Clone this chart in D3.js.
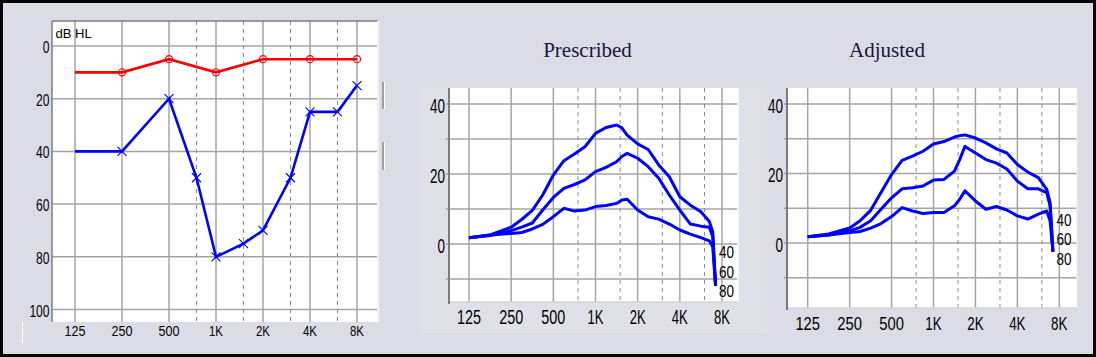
<!DOCTYPE html>
<html><head><meta charset="utf-8">
<script src="https://cdn.jsdelivr.net/npm/d3@7"></script>
<style>html,body{margin:0;padding:0;background:#000;}svg{display:block;}</style>
</head><body>
<svg id="chart" width="1096" height="357"></svg>
<script>
// ---------- data ----------
const octaveTicks = [125, 250, 500, 1000, 2000, 4000, 8000];
const tickLabels = ["125", "250", "500", "1K", "2K", "4K", "8K"];
const halfOctaves = [750, 1500, 3000, 6000];
const audioYTicks = [0, 20, 40, 60, 80, 100];
const gainYTicks = [0, 20, 40];
const gainGrid = [-10, 0, 10, 20, 30, 40];

// audiogram (dB HL)
const redFreq = [125, 250, 500, 1000, 2000, 4000, 8000];
const redDb   = [10, 10, 5, 10, 5, 5, 5];
const blueFreq = [125, 250, 500, 750, 1000, 1500, 2000, 3000, 4000, 6000, 8000];
const blueDb   = [40, 40, 20, 50, 80, 75, 70, 50, 25, 25, 15];

// gain curves (dB) — input levels 40 / 60 / 80
const curveFreq = [125,177,250,297,354,420,500,595,707,841,1000,1189,1414,1542,1682,2000,2378,2828,3364,4000,4757,5657,6498,6870,7200];
const prescribed40 = [1.8,2.6,4.8,7,9.6,14,19.7,23.8,25.7,27.8,31.6,33.3,34,33.2,31.1,28.6,27,22.6,19.2,13.5,11.1,9.2,6.4,3.5,-12];
const prescribed60 = [1.8,2.4,3.8,4.8,6,9.7,13.3,15.9,17,18.3,20.7,21.9,23.5,25,25.9,24.5,22.1,18.8,14,9.7,5.7,5.1,4.8,2.1,-12];
const prescribed80 = [1.8,2.6,3,3.3,4.3,5.6,7.8,10.2,9.4,9.7,10.7,11,11.6,12.6,12.8,9.7,7.8,7.1,5.7,4,2.8,1.8,0.9,-0.8,-12];
const adjusted40 = [1.8,2.6,4.3,6.4,9.4,14.5,19.7,23.8,25,26.4,28.5,29.2,30.5,30.9,31.1,30.2,28.8,27.1,25.9,22.6,20.4,18.8,15.4,11.6,-2.5];
const adjusted60 = [1.8,2.3,3.5,4.5,6.4,9.7,13,15.6,15.9,16.4,18.1,18.3,20.7,24,27.8,25.9,24,23,21.3,17.8,15.6,15.6,14.5,10.7,-2.5];
const adjusted80 = [1.8,2.3,3,3.3,4.3,5.6,7.6,10.2,9.2,8.5,8.8,8.8,10.7,12.6,15,12.1,9.7,10.5,9.5,7.8,6.9,8.3,9.2,6.4,-2.5];
const levelLabels = ["40", "60", "80"];

// ---------- drawing ----------
const svg = d3.select("#chart");
svg.append("rect").attr("x",0).attr("y",0).attr("width",1096).attr("height",357).attr("fill","#000");
svg.append("rect").attr("x",3).attr("y",3).attr("width",1090).attr("height",351).attr("fill","#dcdce6");

const GRID = "#a4a4a4", DASH = "#8c8c8c", AXIS = "#7c7c7c";
const FONT = "'Liberation Sans', Arial, sans-serif";

function txt(g, x, y, s, size, charW, anchor) {
  return g.append("text").attr("x", x).attr("y", y).text(s)
    .attr("font-family", FONT).attr("font-size", size)
    .attr("text-anchor", anchor || "middle")
    .attr("dominant-baseline", "central")
    .attr("textLength", s.length * charW).attr("lengthAdjust", "spacingAndGlyphs")
    .attr("fill", "#000");
}

// ===== Left: audiogram =====
{
  const g = svg.append("g");
  const L = 52, R = 378, T = 21, B = 322;
  const x = d3.scaleLog().base(2).domain([125, 8000]).range([75, 357]);
  const y = d3.scaleLinear().domain([0, 100]).range([46, 309.5]);
  g.append("rect").attr("x", L).attr("y", T).attr("width", R - L).attr("height", B - T).attr("fill", "#fff");
  g.selectAll(".hg").data(audioYTicks).join("line")
    .attr("x1", L).attr("x2", R).attr("y1", d => y(d)).attr("y2", d => y(d))
    .attr("stroke", GRID).attr("stroke-width", 1.5);
  g.selectAll(".vg").data(octaveTicks).join("line")
    .attr("x1", d => x(d)).attr("x2", d => x(d)).attr("y1", T).attr("y2", B)
    .attr("stroke", GRID).attr("stroke-width", 1.5);
  g.selectAll(".dg").data(halfOctaves).join("line")
    .attr("x1", d => x(d)).attr("x2", d => x(d)).attr("y1", T).attr("y2", B)
    .attr("stroke", DASH).attr("stroke-width", 1).attr("stroke-dasharray", "4,4");
  g.append("line").attr("x1", L).attr("x2", R).attr("y1", T).attr("y2", T).attr("stroke", AXIS).attr("stroke-width", 1.5);
  g.append("line").attr("x1", L).attr("x2", L).attr("y1", T).attr("y2", B).attr("stroke", AXIS).attr("stroke-width", 1.5);
  g.append("line").attr("x1", R).attr("x2", R).attr("y1", T).attr("y2", B).attr("stroke", "#f4f4f4").attr("stroke-width", 2);

  g.append("text").attr("x", 55.5).attr("y", 37.5).text("dB HL")
    .attr("font-family", FONT).attr("font-size", 13).attr("fill", "#000");

  audioYTicks.forEach(d => txt(g, 49.5, y(d) + 1.5, String(d), 16, 6.7, "end"));
  octaveTicks.forEach((d, i) => txt(g, x(d), 330.5, tickLabels[i], 15, 7, "middle"));

  const red = redFreq.map((f, i) => [f, redDb[i]]);
  const blue = blueFreq.map((f, i) => [f, blueDb[i]]);
  const line = d3.line().x(d => x(d[0])).y(d => y(d[1]));
  g.append("path").attr("d", line(red)).attr("fill", "none").attr("stroke", "#ff0000").attr("stroke-width", 2.6);
  g.append("path").attr("d", line(blue)).attr("fill", "none").attr("stroke", "#0000ff").attr("stroke-width", 2.6);
  g.selectAll(".ro").data(red.slice(1)).join("circle")
    .attr("cx", d => x(d[0])).attr("cy", d => y(d[1])).attr("r", 3.6)
    .attr("fill", "none").attr("stroke", "#ff0000").attr("stroke-width", 1.1);
  g.selectAll(".bx").data(blue.slice(1)).join("path")
    .attr("d", d => { const cx = x(d[0]), cy = y(d[1]), s = 4.5;
      return `M${cx-s},${cy-s}L${cx+s},${cy+s}M${cx-s},${cy+s}L${cx+s},${cy-s}`; })
    .attr("stroke", "#0000ff").attr("stroke-width", 1.1);

  // small widget artefacts beside the plot
  [[82, 109], [142, 170]].forEach(([a, b]) => {
    g.append("line").attr("x1", 383).attr("x2", 383).attr("y1", a).attr("y2", b).attr("stroke", "#8a8a8a").attr("stroke-width", 1.5);
    g.append("line").attr("x1", 384.5).attr("x2", 384.5).attr("y1", a).attr("y2", b).attr("stroke", "#ffffff").attr("stroke-width", 1);
  });
  g.append("line").attr("x1", 22.5).attr("x2", 22.5).attr("y1", 322).attr("y2", 343).attr("stroke", "#fff").attr("stroke-width", 1);
}

// ===== Gain panels =====
function gainPanel(opts) {
  const g = svg.append("g");
  const { L, R, T, B, x0, x1, y0, y40, title, titleX, curves, labX, labY, tickY, tickSize, tickW } = opts;
  const x = d3.scaleLog().base(2).domain([125, 8000]).range([x0, x1]);
  const y = d3.scaleLinear().domain([0, 40]).range([y0, y40]);
  if (opts.panel) g.append("rect").attr("x", opts.panel[0]).attr("y", opts.panel[1])
      .attr("width", opts.panel[2]).attr("height", opts.panel[3]).attr("fill", "#e0e0e8");
  g.append("rect").attr("x", L).attr("y", T).attr("width", R - L).attr("height", B - T).attr("fill", "#fff");
  g.selectAll(".hg").data(gainGrid).join("line")
    .attr("x1", L - 3).attr("x2", R).attr("y1", d => y(d)).attr("y2", d => y(d))
    .attr("stroke", GRID).attr("stroke-width", 1.5);
  g.selectAll(".vg").data(octaveTicks).join("line")
    .attr("x1", d => x(d)).attr("x2", d => x(d)).attr("y1", T).attr("y2", B)
    .attr("stroke", GRID).attr("stroke-width", 1.5);
  g.selectAll(".dg").data(halfOctaves).join("line")
    .attr("x1", d => x(d)).attr("x2", d => x(d)).attr("y1", T).attr("y2", B)
    .attr("stroke", DASH).attr("stroke-width", 1).attr("stroke-dasharray", "4,4");
  g.append("line").attr("x1", L).attr("x2", R).attr("y1", B).attr("y2", B).attr("stroke", "#d4d4d4").attr("stroke-width", 1.5);
  g.append("line").attr("x1", R).attr("x2", R).attr("y1", T).attr("y2", B).attr("stroke", opts.edge).attr("stroke-width", 1.5);
  g.append("line").attr("x1", L).attr("x2", L).attr("y1", T).attr("y2", B + 2).attr("stroke", AXIS).attr("stroke-width", 2);

  gainYTicks.forEach(d => txt(g, L - 4, y(d) + 1.5, String(d), 19.5, 7.5, "end"));
  octaveTicks.forEach((d, i) => txt(g, x(d), tickY, tickLabels[i], tickSize, tickW, "middle"));

  g.append("text").attr("x", titleX).attr("y", 56.5).text(title)
    .attr("font-family", "'Liberation Serif', 'Times New Roman', serif").attr("font-size", 21)
    .attr("text-anchor", "middle").attr("fill", "#16163a");

  const line = d3.line().x(d => x(d[0])).y(d => y(d[1]));
  curves.forEach(vals => {
    g.append("path").attr("d", line(curveFreq.map((f, i) => [f, vals[i]])))
      .attr("fill", "none").attr("stroke", "#0000ff").attr("stroke-width", 3)
      .attr("stroke-linejoin", "round");
  });
  levelLabels.forEach((s, i) => txt(g, labX, labY + i * 19.5, s, 17, 7.5, "start"));
}

gainPanel({ L: 449, R: 738, T: 88, B: 302, x0: 469, x1: 722, y0: 244, y40: 104,
  title: "Prescribed", titleX: 587.5, curves: [prescribed40, prescribed60, prescribed80],
  labX: 719, labY: 252.5, tickY: 317, tickSize: 20, tickW: 8, edge: "#ffffff",
  panel: [420, 88, 347, 245] });
gainPanel({ L: 787, R: 1077, T: 88, B: 308, x0: 807.7, x1: 1059.3, y0: 243, y40: 104,
  title: "Adjusted", titleX: 887, curves: [adjusted40, adjusted60, adjusted80],
  labX: 1056.5, labY: 220, tickY: 323.5, tickSize: 19, tickW: 8.2, edge: "#f2f0d6" });
</script>
</body></html>
